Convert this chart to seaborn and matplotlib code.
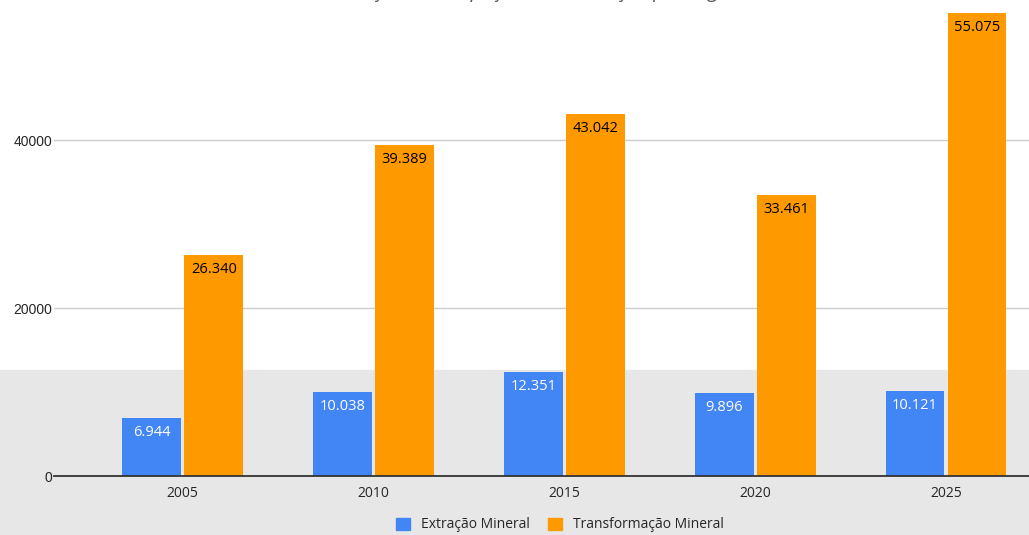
import matplotlib
matplotlib.use("Agg")
import matplotlib.pyplot as plt
from matplotlib.patches import Rectangle, Patch
import seaborn as sns
import pandas as pd

# Dados (empregos por segmento)
anos = ["2005", "2010", "2015", "2020", "2025"]
extracao = [6944, 10038, 12351, 9896, 10121]
transformacao = [26340, 39389, 43042, 33461, 55075]
series = ["Extração Mineral", "Transformação Mineral"]
cores = ["#4285F4", "#FF9900"]
titulo = "Evolução da Ocupação na Mineração por Segmento"

df = pd.DataFrame({
    "ano": anos * 2,
    "valor": extracao + transformacao,
    "serie": [series[0]] * len(anos) + [series[1]] * len(anos),
})

sns.set_theme(style="white")
plt.rcParams["font.family"] = ["Open Sans", "DejaVu Sans"]

W, H = 1029, 535
fig = plt.figure(figsize=(W / 100, H / 100), dpi=100)
ax = fig.add_axes([54 / W, (H - 476) / H, (W - 54) / W, 476 / H])
ax.patch.set_alpha(0)

# faixa cinza no fundo
fig.patches.append(Rectangle((0, 0), 1, (H - 370) / H, transform=fig.transFigure,
                             color="#e7e7e7", zorder=-5))

sns.barplot(data=df, x="ano", y="valor", hue="serie", palette=cores,
            width=0.65, gap=0.05, saturation=1, ax=ax, legend=False, zorder=3,
            linewidth=0)

ax.set_ylim(0, 56667)
ax.set_xlim(-0.675, 4.435)
ax.set_yticks([0, 20000, 40000])
ax.set_yticklabels(["0", "20000", "40000"], family="Liberation Sans", fontsize=10)
ax.tick_params(axis="both", length=0)
ax.tick_params(axis="y", pad=1)
ax.tick_params(axis="x", labelsize=10, pad=7)
ax.set_xlabel("")
ax.set_ylabel("")
for y in [20000, 40000]:
    ax.axhline(y, color="#cccccc", linewidth=1, zorder=1)
for s in ["top", "right", "left"]:
    ax.spines[s].set_visible(False)
ax.spines["bottom"].set_color("#333333")
ax.spines["bottom"].set_linewidth(1.3)
ax.spines["bottom"].set_zorder(4)

# rótulos dentro das barras
for cont, cor_txt in zip(ax.containers, ["white", "black"]):
    for p in cont.patches:
        v = p.get_height()
        ax.annotate(f"{int(v):,}".replace(",", "."),
                    (p.get_x() + p.get_width() / 2, v),
                    xytext=(0, -5), textcoords="offset points",
                    ha="center", va="top", fontsize=10.5, color=cor_txt, zorder=5)

handles = [Patch(facecolor=c, edgecolor=c) for c in cores]
fig.legend(handles, series, loc="center", bbox_to_anchor=(560 / W, 1 - 525 / H),
           ncol=2, frameon=False, fontsize=10, handlelength=1.0, handleheight=1.0,
           columnspacing=1.3, handletextpad=0.8)

# título (cortado no topo da imagem, como no original)
fig.text(0.535, 1 + 2 / H, titulo, ha="center", va="baseline", fontsize=14,
         style="italic", color="#555555")

fig.savefig("out.png", dpi=100)
